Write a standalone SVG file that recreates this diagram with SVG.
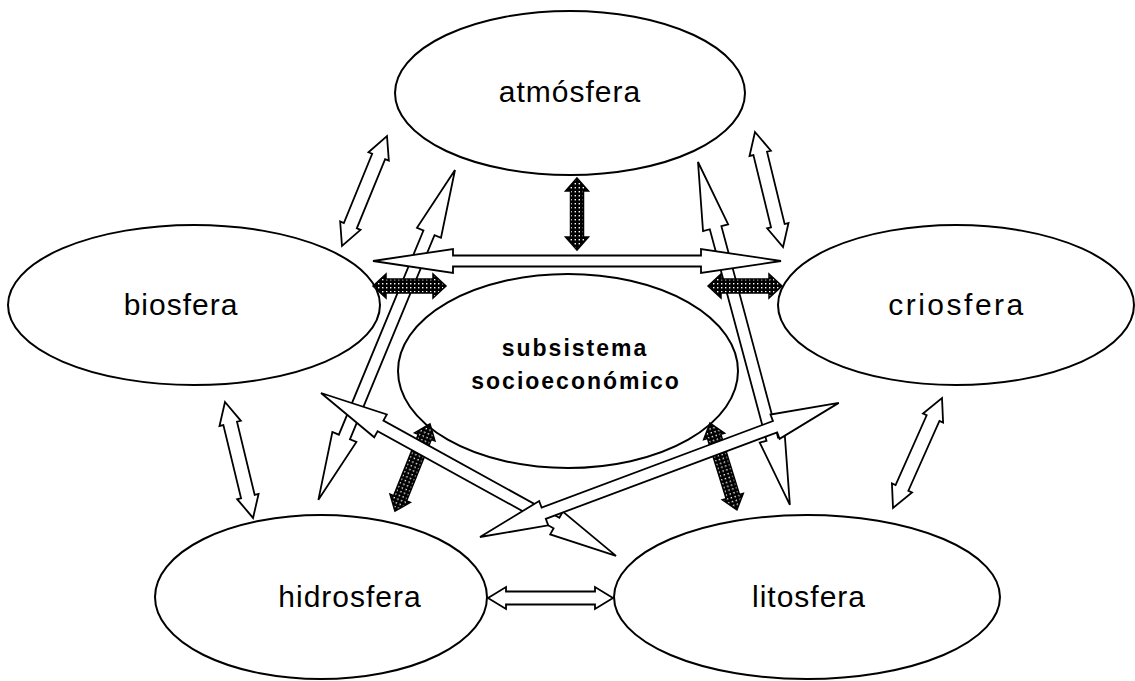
<svg xmlns="http://www.w3.org/2000/svg" width="1135" height="681" viewBox="0 0 1135 681">
<style>
.node{fill:#fff;stroke:#000;stroke-width:2}
.lbl{font-family:"Liberation Sans",Arial,sans-serif;font-size:30px;fill:#000;text-anchor:middle;letter-spacing:1px}
.bold{font-family:"Liberation Sans",Arial,sans-serif;font-size:23px;font-weight:bold;fill:#000;text-anchor:middle;letter-spacing:2px}
.ha{fill:#fff;stroke:#000;stroke-width:1.8;stroke-linejoin:miter}
.da{fill:url(#dots);stroke:#000;stroke-width:1.5}
</style>
<defs>
<pattern id="dots" width="4" height="4" patternUnits="userSpaceOnUse">
<rect width="4" height="4" fill="#000"/>
<rect x="1" y="1" width="1.4" height="1.4" fill="#fff"/>
</pattern>
</defs>
<rect width="1135" height="681" fill="#fff"/>
<g id="atmosfera"><ellipse class="node" cx="570" cy="93" rx="175" ry="82"/><text class="lbl" x="570" y="102">atmósfera</text></g>
<g id="biosfera"><ellipse class="node" cx="194" cy="305" rx="186" ry="80"/><text class="lbl" x="181" y="315">biosfera</text></g>
<g id="criosfera"><ellipse class="node" cx="956" cy="305" rx="178" ry="80"/><text class="lbl" x="957" y="315" style="letter-spacing:2.5px">criosfera</text></g>
<g id="subsistema"><ellipse class="node" cx="568" cy="371" rx="170" ry="97"/><text class="bold" x="575" y="356">subsistema</text><text class="bold" x="576" y="389">socioeconómico</text></g>
<g id="hidrosfera"><ellipse class="node" cx="321" cy="597" rx="166" ry="82"/><text class="lbl" x="350" y="607">hidrosfera</text></g>
<g id="litosfera"><ellipse class="node" cx="807" cy="597" rx="193" ry="82"/><text class="lbl" x="809" y="607">litosfera</text></g>
<g id="connectors">
<polygon class="ha" transform="translate(342,246) rotate(-67.75)" points="0,0 22,-11 22,-7 96.8,-7 96.8,-11 118.8,0 96.8,11 96.8,7 22,7 22,11"/>
<polygon class="ha" transform="translate(755,132) rotate(76.3)" points="0,0 22,-11 22,-7 96.4,-7 96.4,-11 118.4,0 96.4,11 96.4,7 22,7 22,11"/>
<polygon class="ha" transform="translate(225,402) rotate(76.4)" points="0,0 22,-11 22,-7 97.3,-7 97.3,-11 119.3,0 97.3,11 97.3,7 22,7 22,11"/>
<polygon class="ha" transform="translate(942,398) rotate(114)" points="0,0 22,-11 22,-7 98.4,-7 98.4,-11 120.4,0 98.4,11 98.4,7 22,7 22,11"/>
<polygon class="ha" transform="translate(488,598)" points="0,0 18,-11 18,-6.5 107,-6.5 107,-11 125,0 107,11 107,6.5 18,6.5 18,11"/>
<polygon class="da" transform="translate(577,178) rotate(90)" points="0,0 13,-11.5 13,-6.5 59,-6.5 59,-11.5 72,0 59,11.5 59,6.5 13,6.5 13,11.5"/>
<polygon class="ha" transform="translate(455,170) rotate(112.5)" points="0,0 68,-13 68,-6 289,-6 289,-13 357,0 289,13 289,6 68,6 68,13"/>
<polygon class="ha" transform="translate(698,162) rotate(75)" points="0,0 68,-13 68,-6 287,-6 287,-13 355,0 287,13 287,6 68,6 68,13"/>
<polygon class="ha" transform="translate(373,261)" points="0,0 80,-12 80,-5.5 328,-5.5 328,-12 408,0 328,12 328,5.5 80,5.5 80,12"/>
<polygon class="da" transform="translate(373,286)" points="0,0 13,-12 13,-7 60,-7 60,-12 73,0 60,12 60,7 13,7 13,12"/>
<polygon class="da" transform="translate(708,286)" points="0,0 13,-12 13,-7 61,-7 61,-12 74,0 61,12 61,7 13,7 13,12"/>
<polygon class="da" transform="translate(430,424) rotate(111.9)" points="0,0 14,-11 14,-7 80,-7 80,-11 94,0 80,11 80,7 14,7 14,11"/>
<polygon class="da" transform="translate(710,423) rotate(72.8)" points="0,0 14,-11 14,-7 77,-7 77,-11 91,0 77,11 77,7 14,7 14,11"/>
<polygon class="ha" transform="translate(321,393) rotate(28.9)" points="0,0 68,-13 68,-6 269,-6 269,-13 337,0 269,13 269,6 68,6 68,13"/>
<polygon class="ha" transform="translate(480,537) rotate(-20.5)" points="0,0 68,-13 68,-6 315,-6 315,-13 383,0 315,13 315,6 68,6 68,13"/>
</g>
</svg>
